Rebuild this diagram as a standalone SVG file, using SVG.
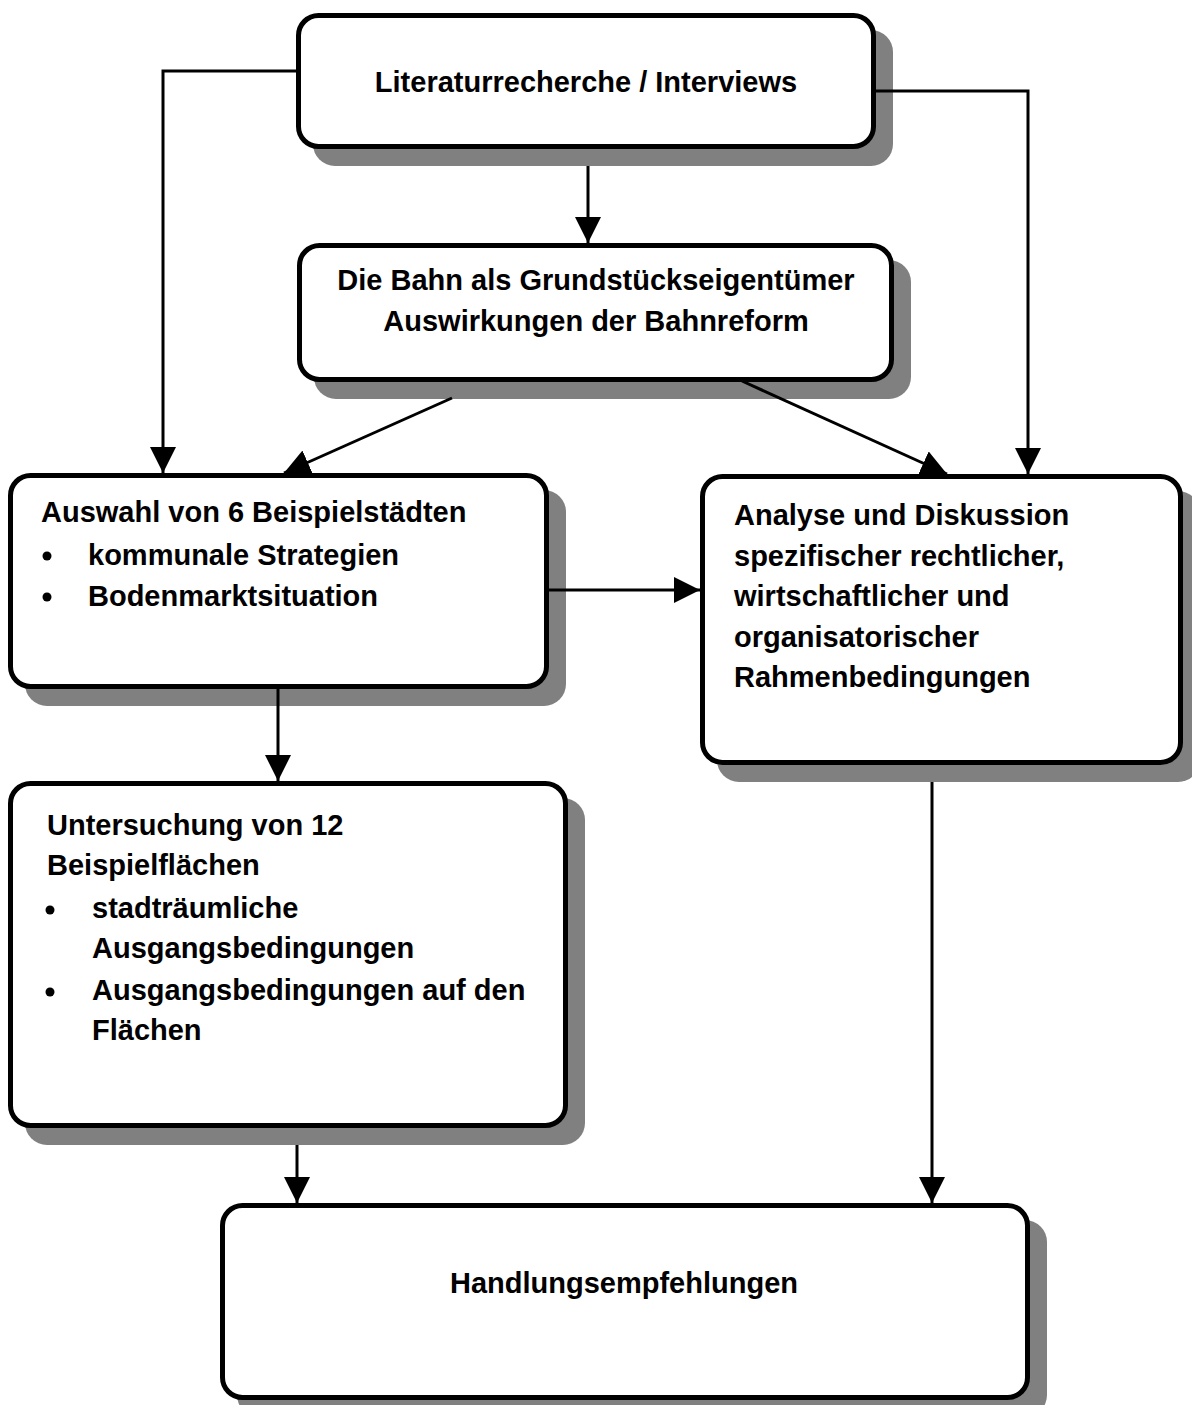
<svg xmlns="http://www.w3.org/2000/svg" width="1192" height="1405" viewBox="0 0 1192 1405">
<defs>
<marker id="arr" markerUnits="userSpaceOnUse" markerWidth="26" markerHeight="26" viewBox="0 0 24 24" refX="24" refY="12" orient="auto">
<path d="M0,0 L24,12 L0,24 Z" fill="#000"/>
</marker>
<style>
.shadow{fill:#808080;stroke:none}
.box{fill:#fff;stroke:#000;stroke-width:5}
.t{font-family:"Liberation Sans",Arial,sans-serif;font-weight:bold;font-size:29px;fill:#000}
.c{text-anchor:middle}
.con{fill:none;stroke:#000;stroke-width:3}
</style>
</defs>
<rect width="1192" height="1405" fill="#fff"/>

<g id="n1">
<rect class="shadow" x="313" y="30" width="580" height="136" rx="22"/>
<rect class="box" x="298.5" y="15.5" width="575" height="131" rx="20"/>
<text class="t c" x="586" y="92">Literaturrecherche / Interviews</text>
</g>

<g id="n2">
<rect class="shadow" x="314" y="260" width="597" height="139" rx="22"/>
<rect class="box" x="299.5" y="245.5" width="592" height="134" rx="20"/>
<text class="t c" x="596" y="290">Die Bahn als Grundstückseigentümer</text>
<text class="t c" x="596" y="331">Auswirkungen der Bahnreform</text>
</g>

<g id="n3">
<rect class="shadow" x="25" y="490" width="541" height="216" rx="22"/>
<rect class="box" x="10.5" y="475.5" width="536" height="211" rx="20"/>
<text class="t" x="41" y="522">Auswahl von 6 Beispielstädten</text>
<circle cx="47" cy="556" r="4.5"/>
<text class="t" x="88" y="565">kommunale Strategien</text>
<circle cx="47" cy="597" r="4.5"/>
<text class="t" x="88" y="606">Bodenmarktsituation</text>
</g>

<g id="n4">
<rect class="shadow" x="717" y="491" width="483" height="291" rx="22"/>
<rect class="box" x="702.5" y="476.5" width="478" height="286" rx="20"/>
<text class="t" x="734" y="525">Analyse und Diskussion</text>
<text class="t" x="734" y="565.5">spezifischer rechtlicher,</text>
<text class="t" x="734" y="606">wirtschaftlicher und</text>
<text class="t" x="734" y="646.5">organisatorischer</text>
<text class="t" x="734" y="687">Rahmenbedingungen</text>
</g>

<g id="n5">
<rect class="shadow" x="25" y="798" width="560" height="347" rx="22"/>
<rect class="box" x="10.5" y="783.5" width="555" height="342" rx="20"/>
<text class="t" x="47" y="835">Untersuchung von 12</text>
<text class="t" x="47" y="875">Beispielflächen</text>
<circle cx="50" cy="910" r="4.5"/>
<text class="t" x="92" y="918">stadträumliche</text>
<text class="t" x="92" y="958">Ausgangsbedingungen</text>
<circle cx="50" cy="992" r="4.5"/>
<text class="t" x="92" y="1000">Ausgangsbedingungen auf den</text>
<text class="t" x="92" y="1040">Flächen</text>
</g>

<g id="n6">
<rect class="shadow" x="237" y="1220" width="810" height="197" rx="22"/>
<rect class="box" x="222.5" y="1205.5" width="805" height="192" rx="20"/>
<text class="t c" x="624" y="1293">Handlungsempfehlungen</text>
</g>

<g id="connectors">
<polyline class="con" points="296,71 163,71 163,473" marker-end="url(#arr)"/>
<polyline class="con" points="876,91 1028,91 1028,474" marker-end="url(#arr)"/>
<line class="con" x1="588" y1="166" x2="588" y2="243" marker-end="url(#arr)"/>
<line class="con" x1="452" y1="398" x2="284" y2="473" marker-end="url(#arr)"/>
<line class="con" x1="742" y1="381" x2="947" y2="474" marker-end="url(#arr)"/>
<line class="con" x1="549" y1="590" x2="700" y2="590" marker-end="url(#arr)"/>
<line class="con" x1="278" y1="689" x2="278" y2="781" marker-end="url(#arr)"/>
<line class="con" x1="297" y1="1145" x2="297" y2="1203" marker-end="url(#arr)"/>
<line class="con" x1="932" y1="782" x2="932" y2="1203" marker-end="url(#arr)"/>
</g>
</svg>
